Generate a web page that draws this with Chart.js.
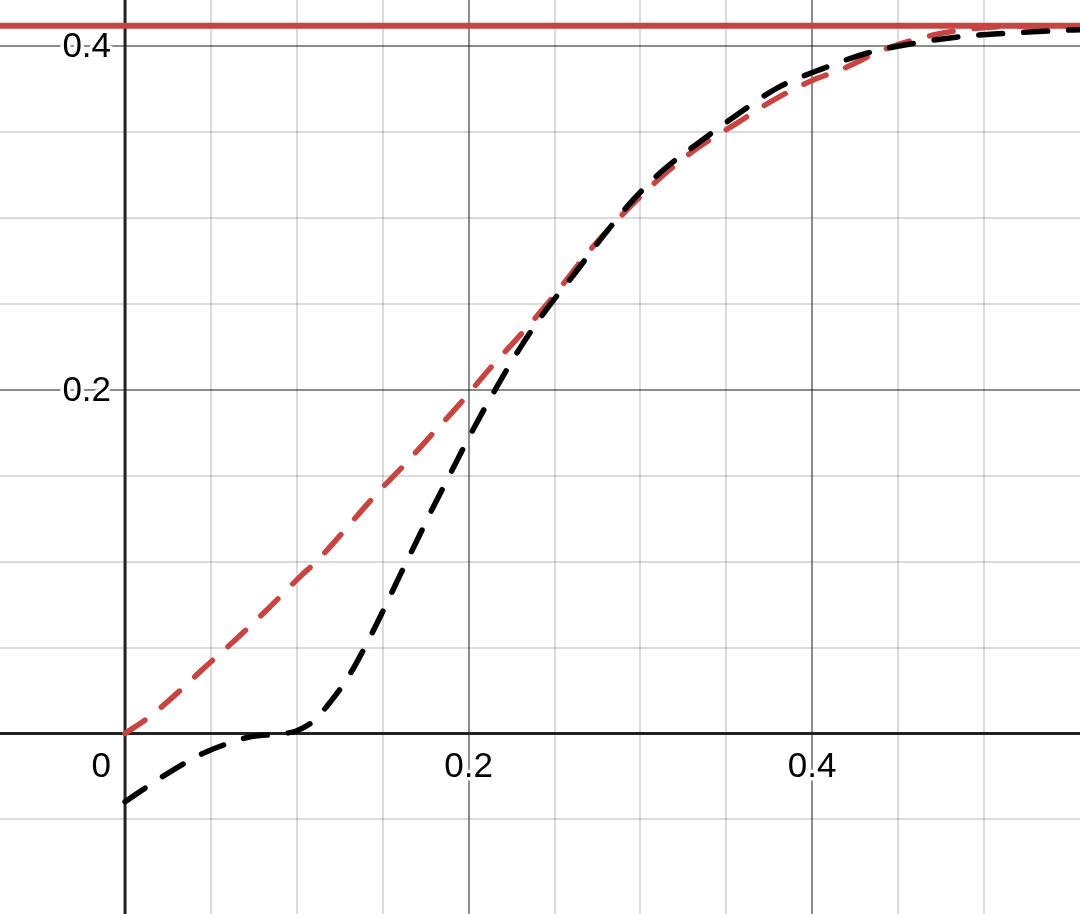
<!DOCTYPE html>
<html>
<head>
<meta charset="utf-8">
<script src="https://cdn.jsdelivr.net/npm/chart.js@4"></script>
<style>
  html, body { margin: 0; padding: 0; background: #fff; }
  #wrap { width: 1080px; height: 914px; }
</style>
</head>
<body>
<div id="wrap"><canvas id="graph" width="1080" height="914"></canvas></div>
<script>
// visible window of the graph
const xRange = [-0.0728, 0.5559];
const yRange = [-0.1051, 0.4270];
const gridStep = 0.05;

// labelled ticks
const xTickValues = [0, 0.2, 0.4];
const xTickLabels = ["0", "0.2", "0.4"];
const yTickValues = [0.2, 0.4];
const yTickLabels = ["0.2", "0.4"];

// black dashed curve
const blackX = [0, 0.022, 0.038, 0.0475, 0.063, 0.073, 0.09, 0.1, 0.11, 0.12, 0.13, 0.14,
    0.15, 0.16, 0.17, 0.18, 0.19, 0.2, 0.21, 0.22, 0.23, 0.24, 0.25, 0.26,
    0.2765, 0.2939, 0.3133, 0.3347, 0.356, 0.3793, 0.4065, 0.4317, 0.4589, 0.486,
    0.5132, 0.55, 0.56];
const blackY = [-0.0397, -0.025, -0.0154, -0.0106, -0.0048, -0.0019, -0.0003, 0.0016, 0.0075,
    0.019, 0.033, 0.051, 0.071, 0.092, 0.1125, 0.133, 0.1525, 0.172, 0.1905, 0.208,
    0.2245, 0.2395, 0.253, 0.2655, 0.2872, 0.3086, 0.328, 0.3445, 0.360, 0.3756,
    0.3872, 0.396, 0.4017, 0.4056, 0.4076, 0.4095, 0.4098];

// red dashed curve
const redX = [0, 0.0146, 0.034, 0.0437, 0.063, 0.0825, 0.1019, 0.1125, 0.1484, 0.158, 0.1775,
    0.195, 0.2125, 0.2318, 0.249, 0.2707, 0.2939, 0.3133, 0.3328, 0.356, 0.3774, 0.4006,
    0.4162, 0.4434, 0.4705, 0.4957, 0.52, 0.56];
const redY = [0, 0.0100, 0.0268, 0.036, 0.0534, 0.0719, 0.0913, 0.1013, 0.1417, 0.1515, 0.1728,
    0.192, 0.2126, 0.2339, 0.254, 0.2814, 0.3066, 0.325, 0.3406, 0.3552, 0.3687, 0.3804,
    0.3862, 0.3988, 0.4066, 0.4105, 0.4118, 0.412];

// horizontal red limit
const limitY = 0.412;

const RED = "#c74440";
const BLACK = "#000000";
const LABEL_FONT = "35px 'Liberation Sans', Arial, sans-serif";

function toPoints(xs, ys) {
    return xs.map((x, i) => ({ x: x, y: ys[i] }));
}

function isMultiple(v, step) {
    const r = v / step;
    return Math.abs(r - Math.round(r)) < 1e-6;
}

function keepGridTicks(scale) {
    scale.ticks = scale.ticks.filter(t => isMultiple(t.value, gridStep));
}

function gridColor(ctx) {
    const v = ctx.tick ? ctx.tick.value : 1;
    if (Math.abs(v) < 1e-9) return "rgba(0,0,0,0)";
    if (isMultiple(v, 0.2)) return "rgba(0,0,0,0.45)";
    return "rgba(0,0,0,0.14)";
}

// axis lines and labels sit on top of the grid, under the curves
const axesPlugin = {
    id: "axesPlugin",
    beforeDatasetsDraw(chart) {
        const c = chart.ctx;
        const xs = chart.scales.x;
        const ys = chart.scales.y;
        const x0 = xs.getPixelForValue(0);
        const y0 = ys.getPixelForValue(0);

        c.save();
        c.strokeStyle = "#222";
        c.lineWidth = 3;
        c.beginPath();
        c.moveTo(x0, chart.chartArea.top);
        c.lineTo(x0, chart.chartArea.bottom);
        c.moveTo(chart.chartArea.left, y0);
        c.lineTo(chart.chartArea.right, y0);
        c.stroke();

        c.font = LABEL_FONT;
        c.lineJoin = "round";
        c.lineWidth = 7;
        c.strokeStyle = "#fff";
        c.fillStyle = "#000";

        xTickValues.forEach((v, i) => {
            const text = xTickLabels[i];
            let px = xs.getPixelForValue(v);
            if (v === 0) {
                c.textAlign = "right";
                px -= 14;
            } else {
                c.textAlign = "center";
            }
            c.textBaseline = "alphabetic";
            c.strokeText(text, px, y0 + 44);
            c.fillText(text, px, y0 + 44);
        });

        yTickValues.forEach((v, i) => {
            const text = yTickLabels[i];
            const py = ys.getPixelForValue(v);
            c.textAlign = "right";
            c.textBaseline = "alphabetic";
            c.strokeText(text, x0 - 14, py + 11);
            c.fillText(text, x0 - 14, py + 11);
        });
        c.restore();
    }
};

const ctx = document.getElementById("graph");

new Chart(ctx, {
    type: "scatter",
    data: {
        datasets: [
            {
                label: "black",
                data: toPoints(blackX, blackY),
                showLine: true,
                borderColor: BLACK,
                borderWidth: 5.5,
                borderDash: [24, 21],
                borderCapStyle: "round",
                cubicInterpolationMode: "monotone",
                pointRadius: 0
            },
            {
                label: "red dashed",
                data: toPoints(redX, redY),
                showLine: true,
                borderColor: RED,
                borderWidth: 5.5,
                borderDash: [24, 21],
                borderCapStyle: "round",
                cubicInterpolationMode: "monotone",
                pointRadius: 0
            },
            {
                label: "limit",
                data: [{ x: xRange[0], y: limitY }, { x: xRange[1], y: limitY }],
                showLine: true,
                borderColor: RED,
                borderWidth: 6,
                pointRadius: 0
            }
        ]
    },
    options: {
        responsive: false,
        animation: false,
        layout: { padding: 0 },
        plugins: {
            legend: { display: false },
            tooltip: { enabled: false }
        },
        scales: {
            x: {
                type: "linear",
                min: xRange[0],
                max: xRange[1],
                afterBuildTicks: keepGridTicks,
                ticks: { display: false, stepSize: gridStep },
                border: { display: false },
                grid: { color: gridColor, lineWidth: 2, drawTicks: false }
            },
            y: {
                type: "linear",
                min: yRange[0],
                max: yRange[1],
                afterBuildTicks: keepGridTicks,
                ticks: { display: false, stepSize: gridStep },
                border: { display: false },
                grid: { color: gridColor, lineWidth: 2, drawTicks: false }
            }
        }
    },
    plugins: [axesPlugin]
});
</script>
</body>
</html>
